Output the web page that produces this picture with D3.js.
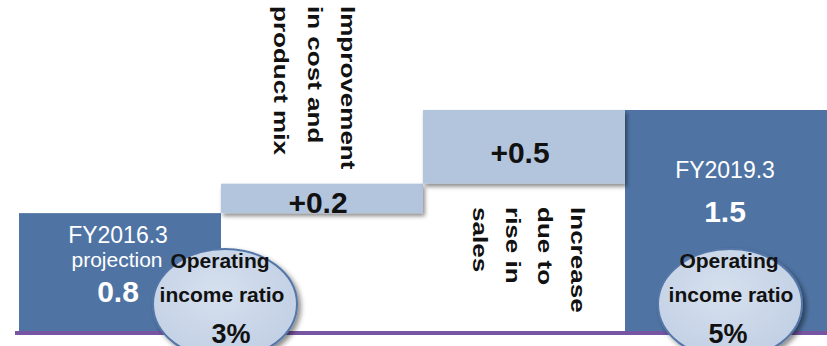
<!DOCTYPE html>
<html><head><meta charset="utf-8">
<script src="https://cdn.jsdelivr.net/npm/d3@7"></script>
<style>html,body{margin:0;padding:0;background:#fff;overflow:hidden}svg{display:block}</style>
</head><body>
<svg id="c" width="827" height="346"></svg>
<script>
const categories = ["FY2016.3 projection", "Improvement in cost and product mix", "Increase due to rise in sales", "FY2019.3"];
const kinds = ["total", "delta", "delta", "total"];
const values = [0.8, 0.2, 0.5, 1.5];
const valueLabels = ["0.8", "+0.2", "+0.5", "1.5"];
const totalTitles = [["FY2016.3", "projection"], null, null, ["FY2019.3"]];
const deltaLines = [null, ["Improvement", "in cost and", "product mix"], ["Increase", "due to", "rise in", "sales"], null];
const ratioTitle = ["Operating", "income ratio"];
const ratioLabels = ["3%", null, null, "5%"];

const W = 827, H = 346;
const FONT = "'Liberation Sans', Arial, Helvetica, sans-serif";
const svg = d3.select("#c");

const x = d3.scaleBand().domain(categories).range([19, 827]).padding(0);
const y = d3.scaleLinear().domain([0, 1.5]).range([331, 110]);

// waterfall bases
let run = 0;
const bars = categories.map((c, i) => {
  let lo, hi;
  if (kinds[i] === "total") { lo = 0; hi = values[i]; run = values[i]; }
  else { lo = run; hi = run + values[i]; run = hi; }
  return { c, i, lo, hi, kind: kinds[i] };
});

const defs = svg.append("defs");
const f = defs.append("filter").attr("id", "sh").attr("x", "-10%").attr("y", "-20%").attr("width", "130%").attr("height", "160%");
f.append("feDropShadow").attr("dx", 2).attr("dy", 3).attr("stdDeviation", 2).attr("flood-color", "#000").attr("flood-opacity", 0.45);
const fe = defs.append("filter").attr("id", "she").attr("x", "-20%").attr("y", "-20%").attr("width", "140%").attr("height", "150%");
fe.append("feDropShadow").attr("dx", 3).attr("dy", 3).attr("stdDeviation", 2.5).attr("flood-color", "#000").attr("flood-opacity", 0.45);
const rg = defs.append("radialGradient").attr("id", "eg").attr("cx", "45%").attr("cy", "40%").attr("r", "60%");
rg.append("stop").attr("offset", "0%").attr("stop-color", "#d6e0ee");
rg.append("stop").attr("offset", "100%").attr("stop-color", "#c2d0e5");

// bars: totals first, then deltas (with shadows) on top
const order = bars.filter(b => b.kind === "total").concat(bars.filter(b => b.kind === "delta"));
svg.append("g").selectAll("rect").data(order).join("rect")
  .attr("x", d => x(d.c))
  .attr("width", x.bandwidth())
  .attr("y", d => y(d.hi))
  .attr("height", d => y(d.lo) - y(d.hi))
  .attr("fill", d => d.kind === "total" ? "#4f74a4" : "#b2c5dd")
  .attr("filter", d => d.kind === "delta" ? "url(#sh)" : null);

// baseline
svg.append("line").attr("x1", 15).attr("x2", W).attr("y1", y(0) + 2).attr("y2", y(0) + 2)
  .attr("stroke", "#7656a3").attr("stroke-width", 4);

// delta value labels
bars.filter(b => b.kind === "delta").forEach(b => {
  const cx = x(b.c) + x.bandwidth() / 2;
  const by = b.i === 1 ? y(b.hi) + 29 : y(b.hi) + 53;
  svg.append("text").attr("x", cx - 4).attr("y", by)
    .attr("text-anchor", "middle").attr("font-family", FONT).attr("font-weight", "bold")
    .attr("font-size", 30).attr("fill", "#111").text(valueLabels[b.i]);
});

// vertical text for deltas
const vt = [
  { i: 1, top: 6, bases: [341, 307.5, 274] },
  { i: 2, top: 207, bases: [571, 538, 505.5, 473] }
];
vt.forEach(v => {
  deltaLines[v.i].forEach((t, k) => {
    svg.append("text")
      .attr("transform", `translate(${v.bases[k]},${v.top}) rotate(90) scale(1.24,1)`)
      .attr("font-family", FONT).attr("font-weight", "bold").attr("font-size", 21)
      .attr("fill", "#111").text(t);
  });
});

// total labels
bars.filter(b => b.kind === "total").forEach(b => {
  const cx = x(b.c) + x.bandwidth() / 2;
  const g = svg.append("g");
  if (b.i === 0) {
    g.append("text").attr("x", cx - 2).attr("y", 243).attr("text-anchor", "middle")
      .attr("font-family", FONT).attr("font-size", 23).attr("fill", "#fff").text(totalTitles[0][0]);
    g.append("text").attr("x", cx - 3).attr("y", 267).attr("text-anchor", "middle")
      .attr("font-family", FONT).attr("font-size", 21).attr("fill", "#fff").text(totalTitles[0][1]);
    g.append("text").attr("x", cx - 2).attr("y", 302).attr("text-anchor", "middle")
      .attr("font-family", FONT).attr("font-weight", "bold").attr("font-size", 30).attr("fill", "#fff").text(valueLabels[0]);
  } else {
    g.append("text").attr("x", cx - 1).attr("y", 178).attr("text-anchor", "middle")
      .attr("font-family", FONT).attr("font-size", 23).attr("fill", "#fff").text(totalTitles[3][0]);
    g.append("text").attr("x", cx - 1).attr("y", 222).attr("text-anchor", "middle")
      .attr("font-family", FONT).attr("font-weight", "bold").attr("font-size", 30).attr("fill", "#fff").text(valueLabels[3]);
  }
});

// ratio ellipses
const ell = [{ i: 0, cx: 225, tx: 221 }, { i: 3, cx: 730, tx: 730 }];
ell.forEach(e => {
  svg.append("ellipse").attr("cx", e.cx).attr("cy", 304).attr("rx", 72).attr("ry", 55)
    .attr("fill", "url(#eg)").attr("stroke", "#5477a8").attr("stroke-width", 2)
    .attr("filter", "url(#she)");
});
ell.forEach(e => {
  svg.append("text").attr("x", e.tx - 1).attr("y", 268).attr("text-anchor", "middle")
    .attr("font-family", FONT).attr("font-weight", "bold").attr("font-size", 21).attr("fill", "#111").text(ratioTitle[0]);
  svg.append("text").attr("x", e.tx + 1).attr("y", 302).attr("text-anchor", "middle")
    .attr("font-family", FONT).attr("font-weight", "bold").attr("font-size", 21).attr("fill", "#111").text(ratioTitle[1]);
  svg.append("text").attr("x", e.tx + (e.i === 0 ? 10 : -2)).attr("y", 343).attr("text-anchor", "middle")
    .attr("font-family", FONT).attr("font-weight", "bold").attr("font-size", 27).attr("fill", "#111").text(ratioLabels[e.i]);
});
</script>
</body></html>
